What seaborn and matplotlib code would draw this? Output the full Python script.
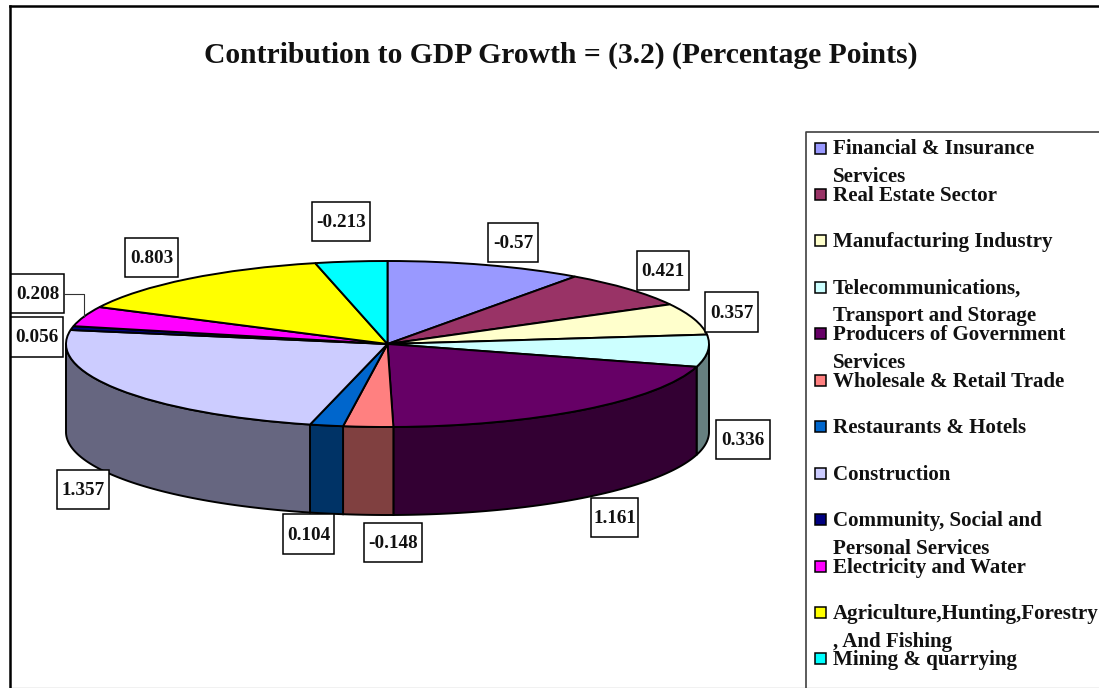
import numpy as np
import matplotlib
matplotlib.use('Agg')
import matplotlib.pyplot as plt
from matplotlib.patches import Rectangle
import seaborn as sns

title = 'Contribution to GDP Growth = (3.2) (Percentage Points)'

sectors = ['Financial & Insurance\nServices', 'Real Estate Sector', 'Manufacturing Industry',
           'Telecommunications,\nTransport and Storage', 'Producers of Government\nServices',
           'Wholesale & Retail Trade', 'Restaurants & Hotels', 'Construction',
           'Community, Social and\nPersonal Services', 'Electricity and Water',
           'Agriculture,Hunting,Forestry\n, And Fishing', 'Mining & quarrying']
value_labels = ['-0.57', '0.421', '0.357', '0.336', '1.161', '-0.148',
                '0.104', '1.357', '0.056', '0.208', '0.803', '-0.213']
# slice sizes as they look in the picture, they don't follow the printed labels exactly
slice_sizes = [35.7, 25.8, 22.0, 22.5, 73.0, 9.0, 6.0, 85.8, 2.7, 14.0, 50.6, 13.0]
colors = ['#9999FF', '#993366', '#FFFFCC', '#CCFFFF', '#660066', '#FF8080',
          '#0066CC', '#CCCCFF', '#000080', '#FF00FF', '#FFFF00', '#00FFFF']

# label boxes in pixels: left, top, width, height
label_boxes = [(488, 223, 50, 39), (637, 251, 52, 39), (705, 292, 53, 40), (716, 420, 54, 39),
               (591, 498, 47, 39), (364, 523, 58, 39), (283, 514, 51, 40), (57, 470, 52, 39),
               (11, 317, 52, 40), (11, 274, 53, 39), (125, 238, 53, 39), (312, 202, 58, 39)]

W, H = 1099, 688
cx, cy, rx, ry = 387.5, 344, 321.5, 83
depth = 88 / ry
serif = ['Liberation Serif', 'DejaVu Serif']

sns.set_theme(style='white')
plt.rcParams['font.family'] = serif
palette = sns.color_palette(colors)

fig = plt.figure(figsize=(W / 100, H / 100), dpi=100, facecolor='white')

# pie axes: unit circle gets squashed to the ellipse
ax = fig.add_axes([0, 0, 1, 1])
ax.pie(slice_sizes, colors=palette, startangle=90, counterclock=False,
       wedgeprops={'edgecolor': 'black', 'linewidth': 1.4, 'zorder': 3})
ax.set_aspect('auto')
ax.set_xlim(-cx / rx, (W - cx) / rx)
ax.set_ylim((cy - H) / ry, cy / ry)
ax.axis('off')

# side wall, only the front half shows
ends = np.cumsum(slice_sizes) / np.sum(slice_sizes) * 360
starts = ends - np.array(slice_sizes) / np.sum(slice_sizes) * 360
for start, end, col in zip(starts, ends, palette):
    t0, t1 = max(start, 90), min(end, 270)
    if t1 <= t0:
        continue
    t = np.radians(np.linspace(t0, t1, 80))
    xs = np.concatenate([np.sin(t), np.sin(t)[::-1]])
    ys = np.concatenate([np.cos(t), np.cos(t)[::-1] - depth])
    ax.fill(xs, ys, facecolor=tuple(c * 0.5 for c in col), edgecolor='black', linewidth=1.4, zorder=2)

# everything else is placed in pixel coords
over = fig.add_axes([0, 0, 1, 1], facecolor='none')
over.set_xlim(0, W)
over.set_ylim(H, 0)
over.axis('off')

over.plot([9.5, W], [H - 0.5, H - 0.5], color='#bbbbbb', lw=1)
over.plot([9.5, 9.5], [H, 6], color='black', lw=1.8, solid_capstyle='projecting')
over.plot([9.5, W], [6, 6], color='black', lw=1.8, solid_capstyle='projecting')
over.text(561, 55, title, ha='center', va='center', fontsize=21.3, fontweight='bold', color='#111111')

for (x, y, w, h), lab in zip(label_boxes, value_labels):
    over.add_patch(Rectangle((x, y), w, h, facecolor='white', edgecolor='black', lw=1.1, zorder=4))
    over.text(x + w / 2, y + h / 2 + 1, lab, ha='center', va='center', fontsize=13.8,
              fontweight='bold', color='#111111', zorder=5)
over.plot([64, 83.5, 83.5], [294, 294, 317], color='#333333', lw=0.8, zorder=4)

# legend, drawn by hand since the rows are uneven
over.plot([W, 806, 806], [131.5, 131.5, H], color='#404040', lw=1.2)
for i, (name, col) in enumerate(zip(sectors, palette)):
    y = 148 + i * 46.45
    over.add_patch(Rectangle((815, y - 5.5), 11, 11, facecolor=col, edgecolor='black', lw=1.1))
    for j, line in enumerate(name.split('\n')):
        over.text(833, y + 1.5 + j * 27.5, line, ha='left', va='center', fontsize=15.1,
                  fontweight='bold', color='#111111')

fig.savefig('out.png', dpi=100)
plt.close(fig)
